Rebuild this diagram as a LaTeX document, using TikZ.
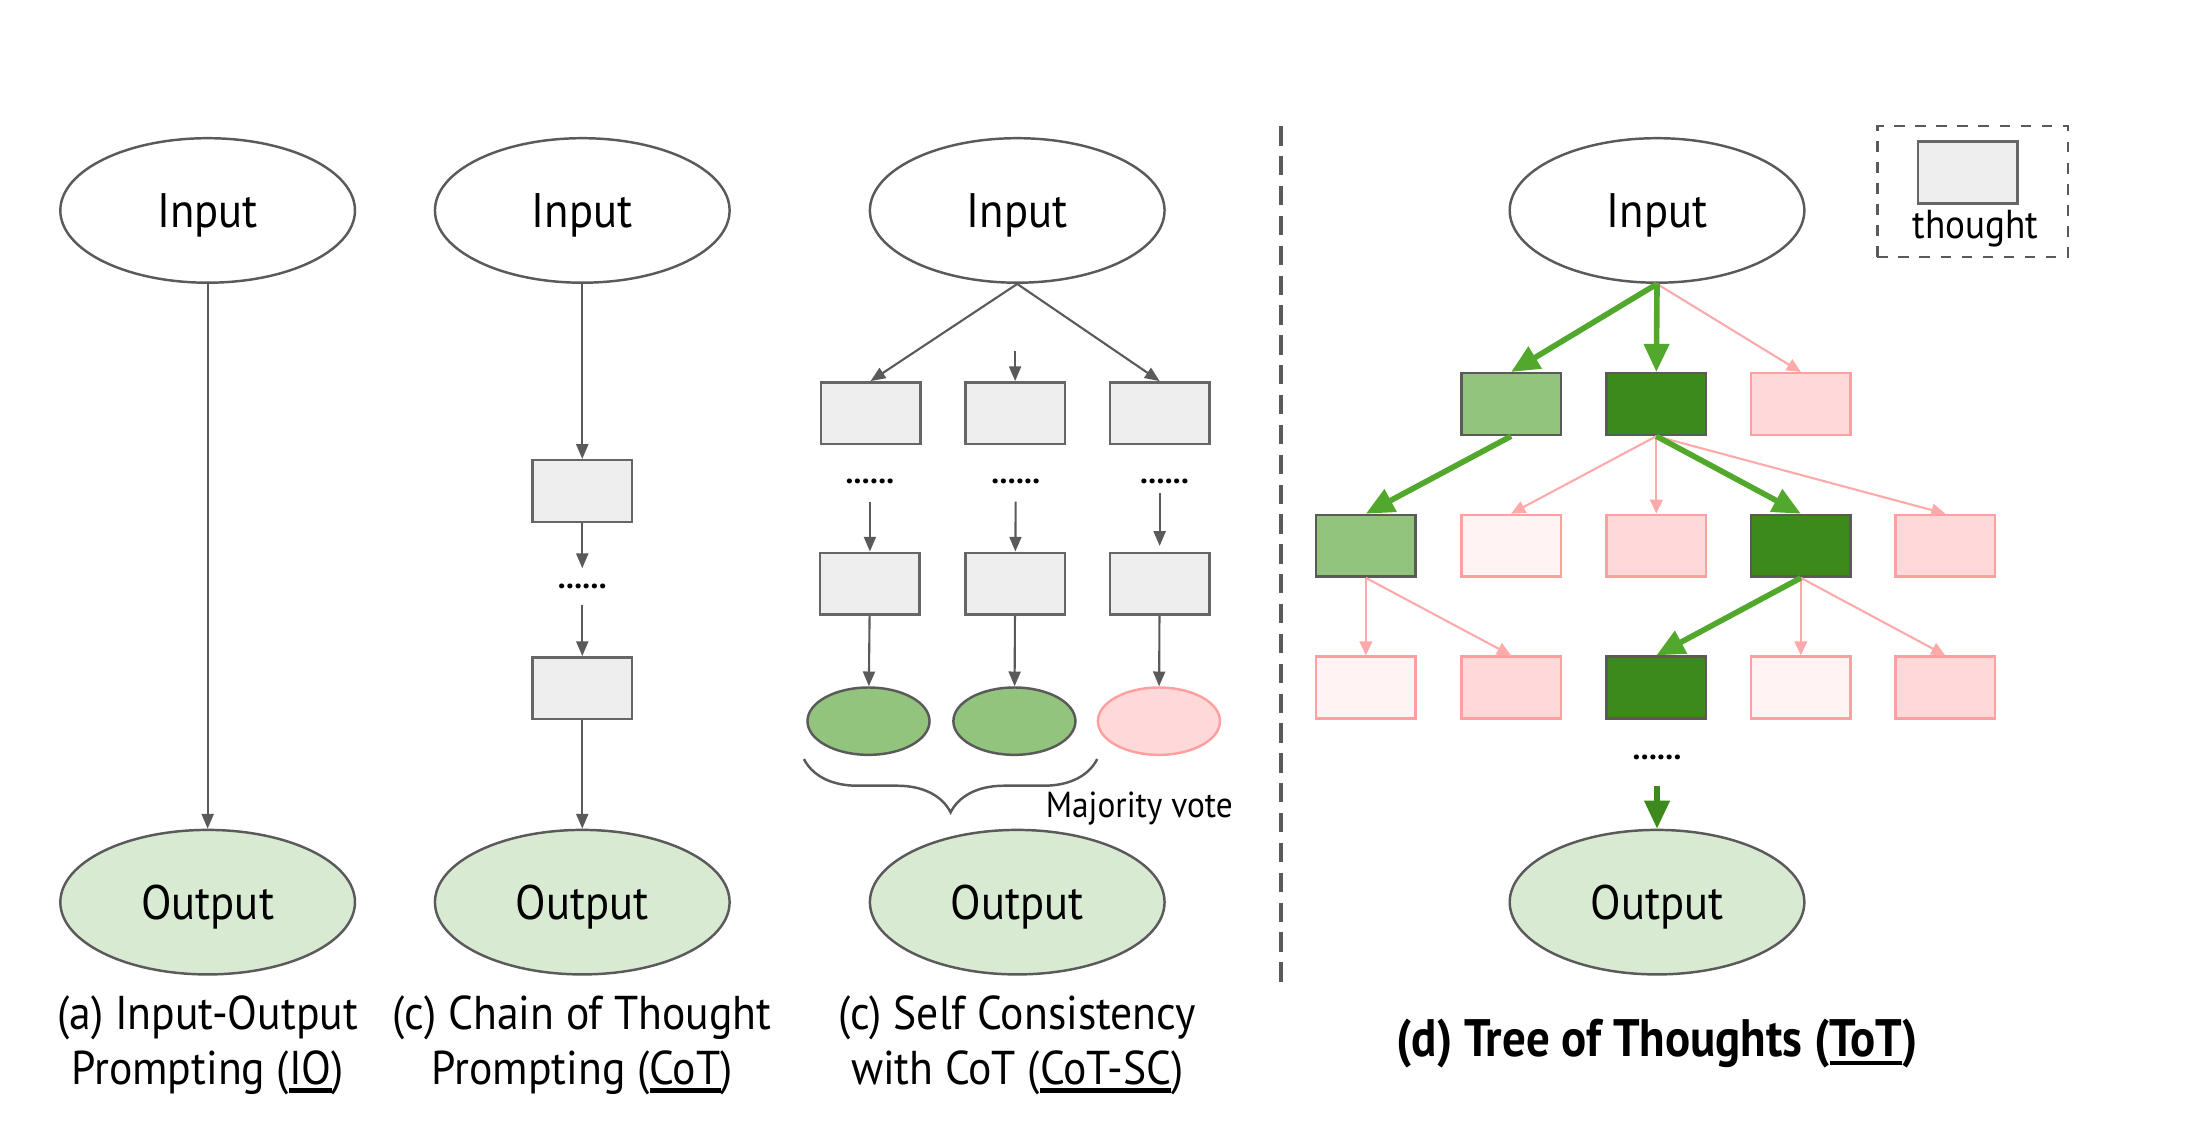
\documentclass[tikz,border=0pt]{standalone}
\usepackage{fontspec}
\setmainfont{PT Sans}
\newfontfamily\condfont{PT Sans}[FakeStretch=0.92]
\newfontfamily\narrowfont{PT Sans}[FakeStretch=0.89]
\usetikzlibrary{shapes.geometric,arrows.meta,decorations.pathreplacing}
\newcommand\thickul[1]{\leavevmode\vtop{\hbox{#1}\kern0.9pt\hrule height 1.3pt}}
\def\U{0.014031cm}
\definecolor{edgegray}{HTML}{5A5A5A}
\definecolor{boxfill}{HTML}{EEEEEE}
\definecolor{boxdraw}{HTML}{666666}
\definecolor{lgreen}{HTML}{93C47D}
\definecolor{dgreen}{HTML}{3C8A1C}
\definecolor{outfill}{HTML}{D9EAD3}
\definecolor{pinkfill}{HTML}{FFD9D9}
\definecolor{pinkdraw}{HTML}{FFA0A0}
\definecolor{palefill}{HTML}{FFF3F3}
\definecolor{garr}{HTML}{52A82C}
\definecolor{parr}{HTML}{FFAAAA}
\tikzset{
  inp/.style={ellipse, draw=edgegray, line width=0.7pt, fill=white, minimum width=210*\U, minimum height=103*\U, inner sep=0pt, text depth=0pt, font=\condfont\fontsize{13.8}{16}\selectfont},
  outp/.style={inp, fill=outfill},
  gbox/.style={rectangle, draw=boxdraw, fill=boxfill, line width=0.7pt, minimum width=71*\U, minimum height=44*\U, inner sep=0pt},
  lgbox/.style={gbox, fill=lgreen, draw=edgegray},
  dgbox/.style={gbox, fill=dgreen, draw=edgegray},
  pkbox/.style={gbox, fill=pinkfill, draw=pinkdraw},
  plbox/.style={gbox, fill=palefill, draw=pinkdraw},
  dotsnode/.style={inner sep=0pt, minimum width=30*\U, font=\fontsize{9}{9}\selectfont\bfseries},
  garrow/.style={draw=edgegray, line width=0.6pt, -{Triangle[length=4.2pt, width=3.4pt]}},
  greenarrow/.style={draw=garr, line width=1.6pt, -{Triangle[length=8pt, width=7pt]}},
  pinkarrow/.style={draw=parr, line width=0.6pt, -{Triangle[length=4pt, width=3.6pt]}},
  vote/.style={ellipse, line width=0.7pt, minimum width=87*\U, minimum height=48*\U, inner sep=0pt},
  caption/.style={align=center, font=\condfont\fontsize{13.5}{15.6}\selectfont},
}
\begin{document}
\begin{tikzpicture}[x=0.014031cm, y=-0.014031cm]
\useasboundingbox[fill=white] (0,0) rectangle (1568,807);

% ---------- (a) IO ----------
\node[inp] (ia) at (148,150) {Input};
\node[outp] (oa) at (148,643) {Output};
\draw[garrow] (ia) -- (oa);
\node[caption] (capa) at (148,745) {(a) Input-Output\\Prompting (\thickul{IO})};

% ---------- (b) CoT ----------
\node[inp] (ib) at (415,150) {Input};
\node[gbox] (b1) at (415,350) {};
\node[dotsnode, minimum height=25*\U] (bd) at (415,418) {......};
\node[gbox] (b2) at (415,490.5) {};
\node[outp] (ob) at (415,643) {Output};
\draw[garrow] (ib) -- (b1);
\draw[garrow] (b1) -- (bd);
\draw[garrow] (bd) -- (b2);
\draw[garrow] (b2) -- (ob);
\node[caption] (capb) at (415,745) {(c) Chain of Thought\\Prompting (\thickul{CoT})};

% ---------- (c) CoT-SC ----------
\node[inp] (ic) at (725,150) {Input};
\node[gbox] (c11) at (620.5,294.5) {};
\node[gbox] (c12) at (723.5,294.5) {};
\node[gbox] (c13) at (826.5,294.5) {};
\coordinate (cm) at (723.5,250);
\draw[garrow] (ic.south) -- (c11.north);
\draw[garrow] (cm) -- (c12.north);
\draw[garrow] (ic.south) -- (c13.north);
\node[dotsnode, minimum height=28*\U] (cd1) at (620,343) {......};
\node[dotsnode, minimum height=28*\U] (cd2) at (724,343) {......};
\node[dotsnode, minimum height=16*\U] (cd3) at (830,343) {......};
\node[gbox] (c21) at (620,416) {};
\node[gbox] (c22) at (723.5,416) {};
\node[gbox] (c23) at (826.5,416) {};
\draw[garrow] (cd1) -- (c21);
\draw[garrow] (cd2) -- (c22);
\draw[garrow] (cd3.south -| c23.north) -- ([yshift=4*\U]c23.north);
\node[vote, fill=lgreen, draw=edgegray] (e1) at (619,514) {};
\node[vote, fill=lgreen, draw=edgegray] (e2) at (723,514) {};
\node[vote, fill=pinkfill, draw=pinkdraw] (e3) at (826,514) {};
\draw[garrow] (c21) -- (e1);
\draw[garrow] (c22) -- (e2);
\draw[garrow] (c23) -- (e3);
\coordinate (brR) at (782,541);
\coordinate (brL) at (573,541);
\draw[edgegray, line width=0.7pt, decorate, decoration={brace, amplitude=38*\U, aspect=0.5}] (brR) -- (brL);
\node[font=\condfont\fontsize{10.3}{12}\selectfont] (mv) at (812,576) {Majority vote};
\node[outp] (oc) at (725,643) {Output};
\node[caption] (capc) at (725,745) {(c) Self Consistency\\with CoT (\thickul{CoT-SC})};

% ---------- separator ----------
\coordinate (sepT) at (913,90);
\coordinate (sepB) at (913,703);
\draw[edgegray, line width=1.3pt, dash pattern=on 5.5pt off 3pt] (sepT) -- (sepB);

% ---------- (d) ToT ----------
\node[inp] (id) at (1181,150) {Input};
% legend
\node[draw=edgegray, dashed, line width=0.7pt, minimum width=136*\U, minimum height=93*\U, inner sep=0pt] (leg) at (1406,136.5) {};
\node[gbox] (legbox) at (1402.5,123) {};
\node[font=\condfont\fontsize{11.5}{14}\selectfont] (legtxt) at (1408,163) {thought};

% row 1
\node[lgbox] (t11) at (1077,288) {};
\node[dgbox] (t12) at (1180.5,288) {};
\node[pkbox] (t13) at (1283.5,288) {};
% row 2
\node[lgbox] (t21) at (973.5,389) {};
\node[plbox] (t22) at (1077,389) {};
\node[pkbox] (t23) at (1180.5,389) {};
\node[dgbox] (t24) at (1283.5,389) {};
\node[pkbox] (t25) at (1386.5,389) {};
% row 3
\node[plbox] (t31) at (973.5,490) {};
\node[pkbox] (t32) at (1077,490) {};
\node[dgbox] (t33) at (1180.5,490) {};
\node[plbox] (t34) at (1283.5,490) {};
\node[pkbox] (t35) at (1386.5,490) {};

% edges
\draw[pinkarrow] (id.south) -- (t13.north);
\draw[greenarrow] (id.south) -- (t11.north);
\draw[greenarrow] (id.south) -- (t12.north);

\draw[greenarrow] (t11.south) -- (t21.north);
\draw[pinkarrow] (t12.south) -- (t22.north);
\draw[pinkarrow] (t12.south) -- (t23.north);
\draw[pinkarrow] (t12.south) -- (t25.north);
\draw[greenarrow] (t12.south) -- (t24.north);

\draw[pinkarrow] (t21.south) -- (t31.north);
\draw[pinkarrow] (t21.south) -- (t32.north);
\draw[pinkarrow] (t24.south) -- (t34.north);
\draw[pinkarrow] (t24.south) -- (t35.north);
\draw[greenarrow] (t24.south) -- (t33.north);

\node[dotsnode, minimum height=40*\U] (td) at (1181,540) {......};
\node[outp] (od) at (1181,643) {Output};
\draw[greenarrow, draw=dgreen] (td) -- (od);
\node[font=\narrowfont\fontsize{15}{18}\selectfont\bfseries] (capd) at (1181,744) {(d) Tree of Thoughts (\thickul{ToT})};
\end{tikzpicture}
\end{document}
